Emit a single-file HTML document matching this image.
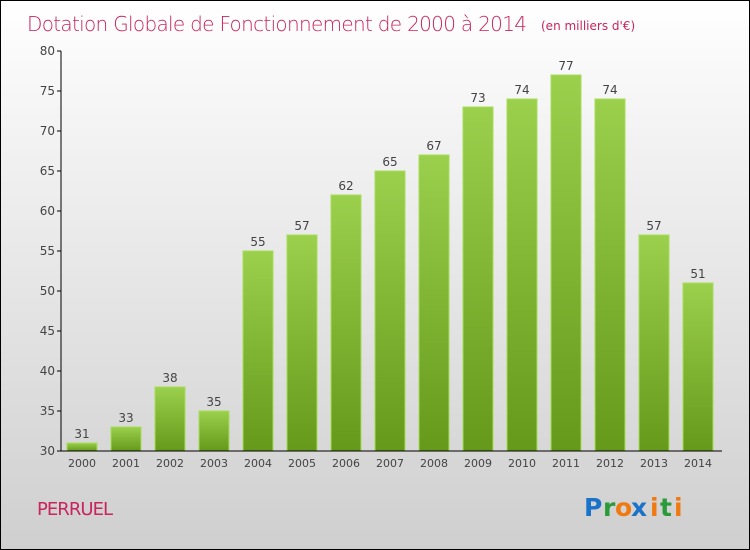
<!DOCTYPE html>
<html><head><meta charset="utf-8"><style>
body{margin:0}
#c{position:relative;width:748px;height:548px;border:1px solid #000;background:linear-gradient(#fff,#f0f0f0 30%,#cfcfcf);font-family:"DejaVu Sans","Liberation Sans",sans-serif;overflow:hidden}
</style></head><body>
<div id="c">
<svg id="s" width="748" height="548">
<defs><linearGradient id="g" x1="0" y1="0" x2="0" y2="1"><stop offset="0" stop-color="#9bd04d"/><stop offset="1" stop-color="#65991a"/></linearGradient></defs>
<text x="26" y="30" font-size="20" fill="#c8245e" font-family="DejaVu Sans" font-weight="200" textLength="500">Dotation Globale de Fonctionnement de 2000 à 2014</text>
<text x="540" y="29" font-size="12" fill="#c8245e">(en milliers d'€)</text>
<text x="36" y="514" font-size="18" fill="#c8245e" textLength="76">PERRUEL</text>
<g font-size="25" font-weight="bold"><text x="583" y="515" fill="#1a73c8">P</text><text x="602" y="515" fill="#2a9a3a">r</text><text x="614" y="515" fill="#f07a10">o</text><text x="630" y="515" fill="#1a73c8">x</text><text x="649" y="515" fill="#f07a10">i</text><text x="659" y="515" fill="#2a9a3a">t</text><text x="673" y="515" fill="#f07a10">i</text></g>
<g id="plot"></g>
</svg></div>
<script>
const years=["2000","2001","2002","2003","2004","2005","2006","2007","2008","2009","2010","2011","2012","2013","2014"];
const values=[31,33,38,35,55,57,62,65,67,73,74,77,74,57,51];
const yTicks=[30,35,40,45,50,55,60,65,70,75,80];
const ns="http://www.w3.org/2000/svg";
const plotG=document.getElementById('plot');
const yMin=30,yMax=80,plotTop=50,plotBot=450,plotLeft=60,plotRight=721;
const yS=v=>plotBot-(v-yMin)/(yMax-yMin)*(plotBot-plotTop);
const xS=i=>81+i*44;
function mk(t,a,txt){const e=document.createElementNS(ns,t);for(const k in a)e.setAttribute(k,a[k]);if(txt!=null)e.textContent=txt;plotG.appendChild(e);return e;}
values.forEach((v,i)=>{
 const r=mk('rect',{x:xS(i)-15,y:yS(v),width:30,height:plotBot-yS(v),fill:'url(#g)',stroke:'#a8dc5a','stroke-width':1});
 
 
 const l=mk('text',{x:xS(i),y:yS(v)-5,'text-anchor':'middle','font-size':12,fill:'#444'},v);
 
 
 const t=mk('text',{x:xS(i),y:plotBot+16,'text-anchor':'middle','font-size':11,fill:'#444'},years[i]);
 
 
});
yTicks.forEach(v=>{
 const tk=mk('line',{x1:plotLeft-4,x2:plotLeft,y1:yS(v),y2:yS(v),stroke:'#000'});
 
 
 const t=mk('text',{x:plotLeft-6,y:yS(v)+4,'text-anchor':'end','font-size':12,fill:'#444'},v);
 
 
});
const ya=mk('line',{x1:plotLeft,x2:plotLeft,y1:plotTop,y2:plotBot,stroke:'#000'});


const xa=mk('line',{x1:plotLeft,x2:plotRight,y1:plotBot,y2:plotBot,stroke:'#000'});


</script>
</body></html>
